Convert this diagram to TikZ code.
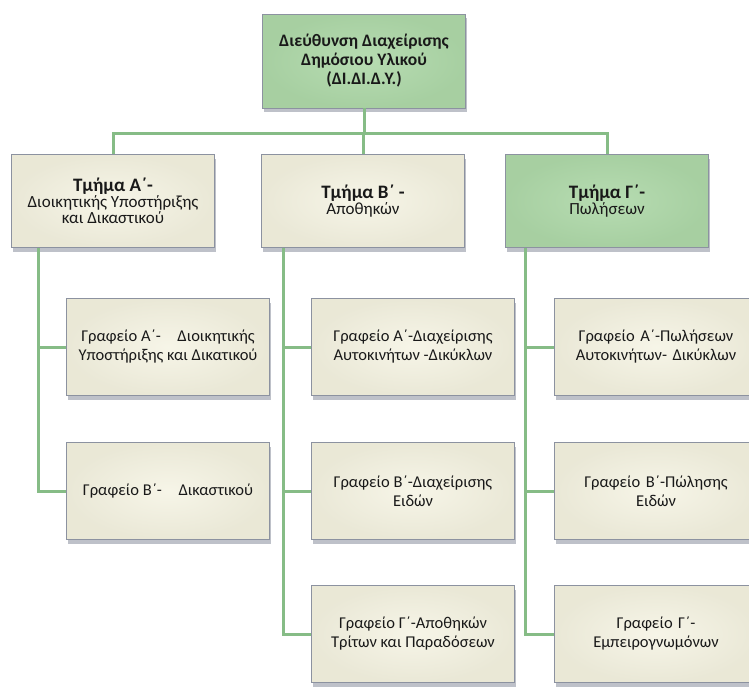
\documentclass[tikz,border=0pt]{standalone}
\usepackage{fontspec}
\setmainfont{Carlito}
\usetikzlibrary{shadows}

\definecolor{boxgreen}{RGB}{170,214,164}
\definecolor{boxcream}{RGB}{243,241,222}
\definecolor{linegreen}{RGB}{134,188,134}
\definecolor{edgegray}{RGB}{140,146,160}

\tikzset{
  unit/.style={draw=edgegray,line width=0.8pt,align=center,
    minimum width=203pt,minimum height=97pt,text=black!90,
    drop shadow={shadow xshift=1pt,shadow yshift=-4pt,fill=edgegray!80,opacity=0.7}},
  creambox/.style={unit,inner color=boxcream!70,outer color=boxcream!92!gray},
  greenbox/.style={unit,inner color=boxgreen!85,outer color=boxgreen!92!gray},
  link/.style={draw=linegreen,line width=3pt}
}

\begin{document}
\begin{tikzpicture}[x=1pt,y=-1pt]
\useasboundingbox (0,0) rectangle (749,686);
\fill[white] (0,0) rectangle (749,686);

\coordinate (bus) at (0,133);
\coordinate (dropA) at (38,0);
\coordinate (dropB) at (283,0);
\coordinate (dropC) at (525,0);

%% director
\node[greenbox,minimum height=94pt,font=\bfseries\fontsize{17.5}{19}\selectfont] (dir) at (364,61)
  {Διεύθυνση Διαχείρισης\\Δημόσιου Υλικού\\(ΔΙ.ΔΙ.Δ.Υ.)};

%% departments
\node[creambox,minimum height=93pt,font=\fontsize{17}{16}\selectfont] (tA) at (113,201)
  {{\bfseries\fontsize{19}{21}\selectfont Τμήμα Α΄-}\\Διοικητικής Υποστήριξης\\και Δικαστικού};
\node[creambox,minimum height=93pt,font=\fontsize{17}{16}\selectfont] (tB) at (363,201)
  {{\bfseries\fontsize{19}{21}\selectfont Τμήμα Β΄ -}\\Αποθηκών};
\node[greenbox,minimum height=93pt,font=\fontsize{17}{16}\selectfont] (tC) at (607,201)
  {{\bfseries\fontsize{19}{21}\selectfont Τμήμα Γ΄-}\\Πωλήσεων};

%% offices
\begin{scope}[font=\fontsize{16.5}{19}\selectfont]
\node[creambox] (gA1) at (168,347) {Γραφείο Α΄-\quad Διοικητικής\\Υποστήριξης και Δικατικού};
\node[creambox] (gA2) at (168,491) {Γραφείο Β΄-\quad Δικαστικού};
\node[creambox] (gB1) at (413,347) {Γραφείο Α΄-Διαχείρισης\\Αυτοκινήτων -Δικύκλων};
\node[creambox] (gB2) at (413,491) {Γραφείο Β΄-Διαχείρισης\\Ειδών};
\node[creambox] (gB3) at (413,634) {Γραφείο Γ΄-Αποθηκών\\Τρίτων και Παραδόσεων};
\node[creambox,text width=190pt] (gC1) at (656,347) {Γραφείο Α΄-Πωλήσεων\\Αυτοκινήτων- Δικύκλων};
\node[creambox,text width=190pt] (gC2) at (656,491) {Γραφείο Β΄-Πώλησης\\Ειδών};
\node[creambox,text width=190pt] (gC3) at (656,634) {Γραφείο Γ΄-\\Εμπειρογνωμόνων};
\end{scope}

%% connectors
\draw[link] (dir.south) -- (dir.south |- bus);
\draw[link] (tA.north) -- (tA.north |- bus) -- (tC.north |- bus) -- (tC.north);
\draw[link] (tB.north) -- (tB.north |- bus);
\draw[link] (tA.south -| dropA) |- (gA1.west);
\draw[link] (tA.south -| dropA) |- (gA2.west);
\draw[link] (tB.south -| dropB) |- (gB1.west);
\draw[link] (tB.south -| dropB) |- (gB2.west);
\draw[link] (tB.south -| dropB) |- (gB3.west);
\draw[link] (tC.south -| dropC) |- (gC1.west);
\draw[link] (tC.south -| dropC) |- (gC2.west);
\draw[link] (tC.south -| dropC) |- (gC3.west);
\end{tikzpicture}
\end{document}
